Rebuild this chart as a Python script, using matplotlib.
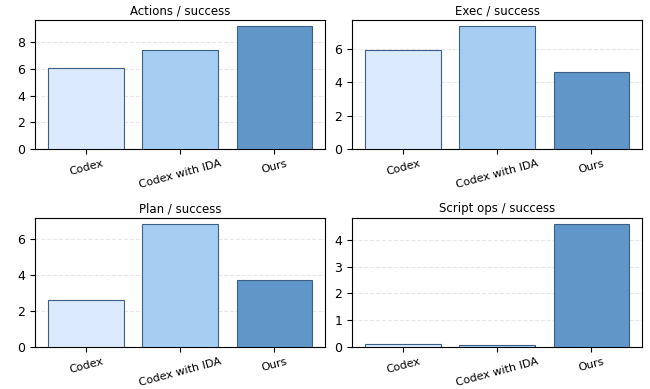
import matplotlib
matplotlib.use("Agg")
import matplotlib.pyplot as plt

methods = ["Codex", "Codex with IDA", "Ours"]
colors = ["#dbeafd", "#a6cef3", "#6096c8"]

titles = ["Actions / success", "Exec / success", "Plan / success", "Script ops / success"]
actions = [6.07, 7.42, 9.22]
exec_vals = [5.96, 7.39, 4.64]
plan = [2.65, 6.86, 3.74]
script_ops = [0.10, 0.06, 4.59]

series = [actions, exec_vals, plan, script_ops]

fig, axes = plt.subplots(2, 2, figsize=(6.5, 3.89), dpi=100)

for ax, title, vals in zip(axes.flat, titles, series):
    ax.bar(methods, vals, color=colors, edgecolor="#3b5f86", linewidth=0.8,
           zorder=3)
    ax.set_title(title, fontsize=8.5, pad=4)
    ax.grid(axis="y", linestyle="--", alpha=0.3, zorder=0)
    ax.tick_params(axis="x", labelsize=8)
    ax.tick_params(axis="y", labelsize=9)
    for lbl in ax.get_xticklabels():
        lbl.set_rotation(15)

fig.subplots_adjust(left=0.054, right=0.988, top=0.949, bottom=0.108,
                    wspace=0.093, hspace=0.535)
plt.savefig("out.png", dpi=100)
